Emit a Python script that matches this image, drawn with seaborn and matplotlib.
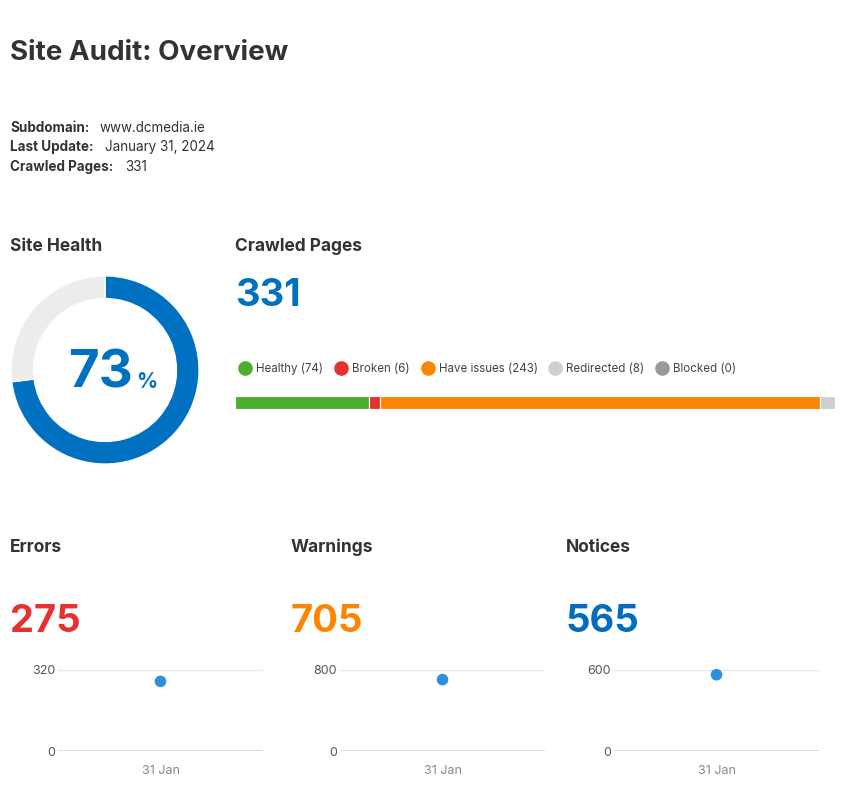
import matplotlib.pyplot as plt
import seaborn as sns
import pandas as pd
from matplotlib.lines import Line2D

# data
info_labels = ["Subdomain:", "Last Update:", "Crawled Pages:"]
info_values = ["www.dcmedia.ie", "January 31, 2024", "331"]
health_score = 73
crawled_total = 331
page_groups = ["Healthy", "Broken", "Have issues", "Redirected", "Blocked"]
page_counts = [74, 6, 243, 8, 0]
page_colors = ["#4caf2f", "#e8312f", "#ff8400", "#cfcfcf", "#999999"]
issue_names = ["Errors", "Warnings", "Notices"]
issue_counts = [275, 705, 565]
issue_colors = ["#e8312f", "#ff8400", "#006dbf"]
issue_ymax = [320, 800, 600]
dates = ["31 Jan"]

sns.set_theme(style="white")
plt.rcParams["font.family"] = ["Inter", "DejaVu Sans"]

W, H = 850, 800
fig = plt.figure(figsize=(W / 100, H / 100), dpi=100)
dark = "#333333"
blue = "#0070c0"


def px_axes(x, y, w, h):
    return fig.add_axes([x / W, 1 - (y + h) / H, w / W, h / H])


def ftext(x, y, s, dy=2.5, **kw):
    # small downward nudge so the glyph centres sit where they do in the reference
    fig.text(x / W, 1 - (y + dy) / H, s, va="center", **kw)


# header
ftext(10, 51, "Site Audit: Overview", fontsize=20, fontweight="bold", color=dark)
for i, (lab, val) in enumerate(zip(info_labels, info_values)):
    y = 127 + i * 19.5
    ftext(10, y, lab, dy=1, fontsize=9.7, fontweight="bold", color=dark)
    ftext([100, 105, 125][i], y, val, dy=1, fontsize=9.7, color=dark)

# site health donut
ftext(10, 244, "Site Health", fontsize=12.5, fontweight="bold", color=dark)
ax = px_axes(10, 275, 190, 190)
ax.pie([health_score, 100 - health_score], colors=[blue, "#ececec"], startangle=90,
       counterclock=False, radius=1,
       wedgeprops=dict(width=0.24, edgecolor="white", linewidth=1))
ax.set_xlim(-1.01, 1.01)
ax.set_ylim(-1.01, 1.01)
ax.set_aspect("equal")
ftext(100, 370, str(health_score), dy=4, fontsize=38, fontweight="bold", color=blue, ha="center")
ftext(147, 380, "%", fontsize=15, fontweight="bold", color=blue, ha="center")

# crawled pages
ftext(235, 244, "Crawled Pages", fontsize=12.5, fontweight="bold", color=dark)
ftext(235, 293, str(crawled_total), dy=3.5, fontsize=27.5, fontweight="bold", color=blue)

ax = px_axes(235, 396, 600, 13)
left = 0
for name, cnt, col in zip(page_groups, page_counts, page_colors):
    if cnt > 0:
        ax.barh(0, cnt, left=left, height=1, color=col, edgecolor="white", linewidth=0.8)
    left += cnt
ax.set_xlim(0, crawled_total)
ax.set_ylim(-0.5, 0.5)
ax.axis("off")

handles = [Line2D([], [], marker="o", linestyle="", markersize=9.5, color=c) for c in page_colors]
labels = [f"{n} ({c})" for n, c in zip(page_groups, page_counts)]
fig.legend(handles, labels, loc="center left", bbox_to_anchor=(228 / W, 1 - 369 / H), ncol=5,
           frameon=False, fontsize=8.3, handletextpad=0.35, columnspacing=0.95,
           labelcolor="#444444", handlelength=1.2)

# issue panels
panel_x = [10, 291, 566]
axes_x = [58, 340, 614]
for name, cnt, col, ymax, px, axx in zip(issue_names, issue_counts, issue_colors, issue_ymax, panel_x, axes_x):
    ftext(px, 545, name, fontsize=12.5, fontweight="bold", color=dark)
    ftext(px, 618, str(cnt), dy=3.5, fontsize=27.5, fontweight="bold", color=col)
    ax = px_axes(axx, 670, 205, 81)
    df = pd.DataFrame({"date": dates, "count": [cnt]})
    sns.scatterplot(data=df, x="date", y="count", ax=ax, color="#2e8fdc", s=70,
                    edgecolor="none", zorder=3, clip_on=False)
    ax.set_xlim(-0.5, 0.5)
    ax.set_ylim(0, ymax)
    ax.set_yticks([0, ymax])
    ax.axhline(ymax, color="#e6e6ea", linewidth=1, zorder=1)
    ax.axhline(0, color="#d3d8e6", linewidth=2, zorder=1)
    for s in ax.spines.values():
        s.set_visible(False)
    ax.set_xlabel("")
    ax.set_ylabel("")
    ax.tick_params(axis="y", length=0, labelsize=9, labelcolor="#555555", pad=2)
    ax.tick_params(axis="x", length=0, labelsize=9, labelcolor="#888888", pad=10)

fig.savefig("out.png", dpi=100, facecolor="white")
